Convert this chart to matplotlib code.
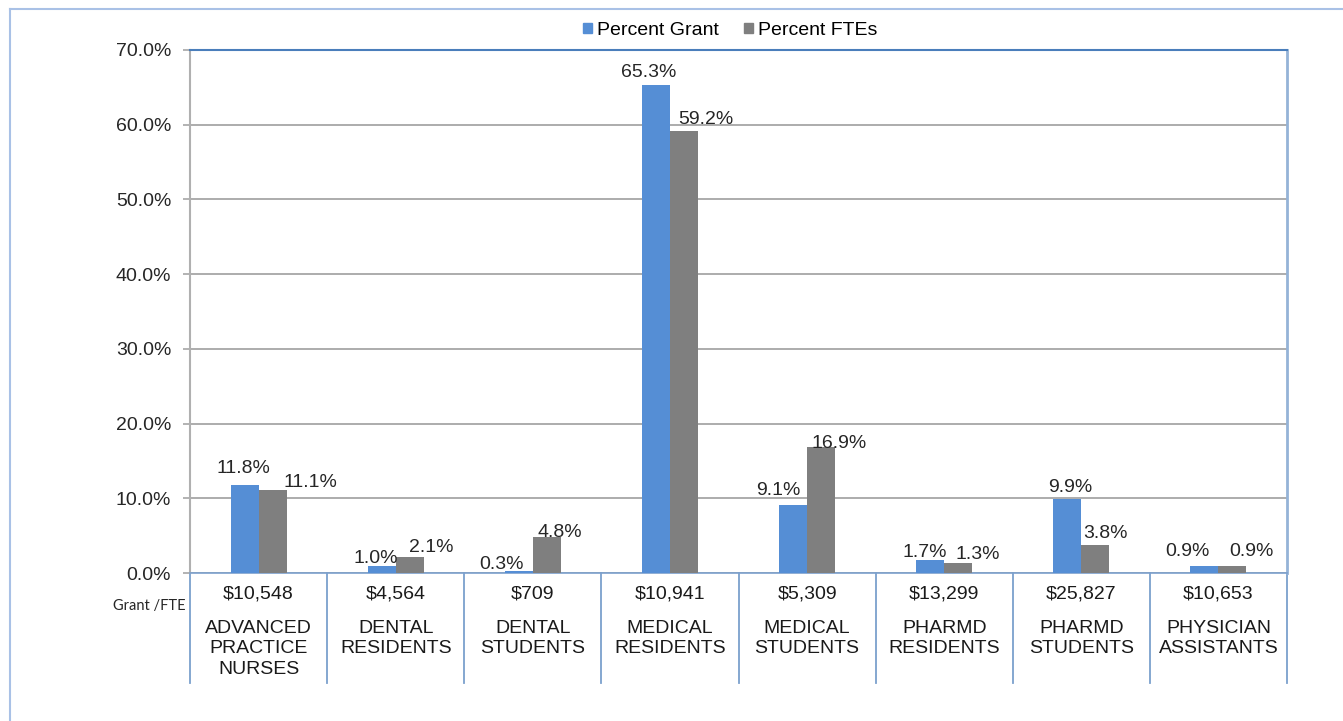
import matplotlib.pyplot as plt
import matplotlib.transforms as mtransforms
from matplotlib.lines import Line2D
from matplotlib.patches import Patch

plt.rcParams['font.family'] = ['Liberation Sans', 'DejaVu Sans']

categories = ['ADVANCED\nPRACTICE\nNURSES', 'DENTAL\nRESIDENTS', 'DENTAL\nSTUDENTS',
              'MEDICAL\nRESIDENTS', 'MEDICAL\nSTUDENTS', 'PHARMD\nRESIDENTS',
              'PHARMD\nSTUDENTS', 'PHYSICIAN\nASSISTANTS']
grant_per_fte = ['$10,548', '$4,564', '$709', '$10,941', '$5,309', '$13,299', '$25,827', '$10,653']
pct_grant = [11.8, 1.0, 0.3, 65.3, 9.1, 1.7, 9.9, 0.9]
pct_ftes = [11.1, 2.1, 4.8, 59.2, 16.9, 1.3, 3.8, 0.9]

# label nudges in pixels (Excel moved some labels by hand)
grant_dx = [-1, -6, -17, -7.5, -14.5, -5.5, 3, -17]
grant_dy = [12, 3, 2, 8, 10, 3, 7, 10]
fte_dx = [37.5, 22, 13, 22, 18, 19.5, 10, 19]
fte_dy = [3, 5, 0, 7, -1, 4, 7, 10]

blue = '#558ED5'
grey = '#7F7F7F'
fs = 14

fig = plt.figure(figsize=(13.43, 7.21), dpi=100)
ax = fig.add_axes([190 / 1343, 1 - 573 / 721, 1097 / 1343, 523 / 721])

x = list(range(len(categories)))
w = 0.204
ax.bar([i - w / 2 for i in x], pct_grant, width=w, color=blue, label='Percent Grant', zorder=3)
ax.bar([i + w / 2 for i in x], pct_ftes, width=w, color=grey, label='Percent FTEs', zorder=3)

px = 0.72  # points per pixel at dpi 100
for i in x:
    ax.annotate(f'{pct_grant[i]:.1f}%', (i - w / 2, pct_grant[i]),
                xytext=(grant_dx[i] * px, grant_dy[i] * px), textcoords='offset points',
                ha='center', va='baseline', fontsize=fs, color='#262626')
    ax.annotate(f'{pct_ftes[i]:.1f}%', (i + w / 2, pct_ftes[i]),
                xytext=(fte_dx[i] * px, fte_dy[i] * px), textcoords='offset points',
                ha='center', va='baseline', fontsize=fs, color='#262626')

ax.set_xlim(-0.5, len(categories) - 0.5)
ax.set_ylim(0, 70)
ax.set_yticks(range(0, 71, 10))
ax.set_yticklabels([f'{v:.1f}%' for v in range(0, 71, 10)], fontsize=fs, color='#262626')
ax.tick_params(axis='y', length=5, color='#A6A6A6', width=1.2, pad=8.5)
ax.set_xticks([])
ax.yaxis.grid(True, color='#A6A6A6', linewidth=1.3, zorder=0)

ax.spines['top'].set_color('#4A7EBB')
ax.spines['top'].set_linewidth(1.5)
ax.spines['right'].set_color('#95B3D7')
ax.spines['right'].set_linewidth(2)
ax.spines['left'].set_color('#B0B0B0')
ax.spines['left'].set_linewidth(1.5)
ax.spines['bottom'].set_color('#7BA0CD')
ax.spines['bottom'].set_linewidth(1.2)

# category table under the axis
trans = mtransforms.blended_transform_factory(ax.transData, ax.transAxes)
for b in range(len(categories) + 1):
    ax.plot([b - 0.5, b - 0.5], [0, -110 / 523], transform=trans, color='#7BA0CD',
            linewidth=1.3, clip_on=False)
for i in x:
    ax.text(i, -21 / 523, grant_per_fte[i], transform=trans, ha='center', va='center',
            fontsize=fs, color='#1a1a1a')
    ax.text(i, -47 / 523, categories[i], transform=trans, ha='center', va='top',
            fontsize=fs, color='#1a1a1a', linespacing=1.25)
ax.text(-0.53, -33 / 523, 'Grant /FTE', transform=trans, ha='right', va='center',
        fontsize=10.5, color='#262626', family=['Lato', 'DejaVu Sans'])

handles = [Patch(color=blue), Patch(color=grey)]
fig.legend(handles, ['Percent Grant', 'Percent FTEs'], loc='center', bbox_to_anchor=(0.5435, 0.958),
           ncol=2, frameon=False, fontsize=fs, handlelength=0.45, handleheight=0.45,
           handletextpad=0.26, columnspacing=1.3)

# outer chart border (left and top visible)
fig.add_artist(Line2D([10 / 1343, 10 / 1343], [0, 1 - 9 / 721], color='#A9C1E6', linewidth=1.5))
fig.add_artist(Line2D([10 / 1343, 1], [1 - 9 / 721, 1 - 9 / 721], color='#A9C1E6', linewidth=1.5))

fig.savefig('out.png', dpi=100)
